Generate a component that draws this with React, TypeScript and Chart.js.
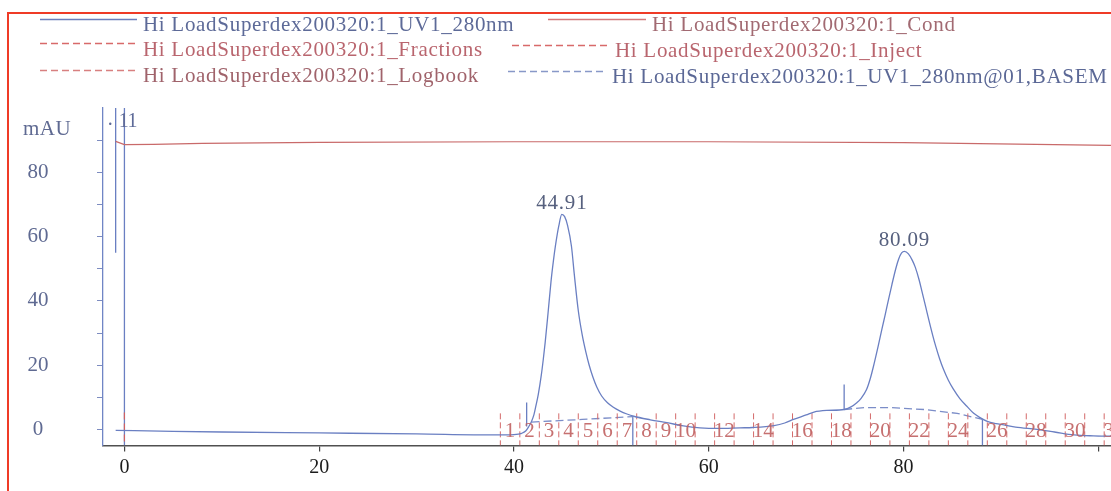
import React, { useEffect, useRef } from 'react';
import { Chart, registerables } from 'chart.js';

Chart.register(...registerables);

// ---------- data ----------
const seriesNames = [
  'Hi LoadSuperdex200320:1_UV1_280nm',
  'Hi LoadSuperdex200320:1_Cond',
  'Hi LoadSuperdex200320:1_Fractions',
  'Hi LoadSuperdex200320:1_Inject',
  'Hi LoadSuperdex200320:1_Logbook',
  'Hi LoadSuperdex200320:1_UV1_280nm@01,BASEM',
];

const uvTime = [
  -0.9, 5, 10, 20, 30, 38, 40, 40.8, 41.2, 41.5, 41.8, 42.05, 42.25, 42.5, 42.8, 43.0, 43.2, 43.5, 43.8,
  44.05, 44.25, 44.6, 44.91, 45.2, 45.5, 45.9, 46.2, 46.6, 47.0, 47.4, 47.7, 48.1, 48.5, 49.0, 49.6,
  50.2, 50.9, 51.6, 52.3, 54.0, 55.7, 57.4, 59.1, 61.0, 63.2, 64.5, 66.7, 67.8, 68.7, 70.0, 70.8,
  72.1, 73.9, 74.6, 75.2, 75.6, 76.2, 76.6, 76.9, 77.4, 77.8, 78.1, 78.5, 78.8, 79.2, 79.5, 79.8,
  80.09, 80.5, 80.9, 81.2, 81.6, 81.9, 82.3, 82.6, 83.0, 83.3, 83.7, 84.1, 84.6, 85.1, 85.8, 86.5,
  87.2, 87.9, 88.6, 89.5, 90.3, 91.5, 93.7, 95.5, 97.5, 99.5, 101.3,
];
const uvValue = [
  -0.3, -0.6, -0.8, -1.1, -1.4, -1.7, -1.6, -1.2, -0.5, 0.8, 2.5, 4.6, 7.3, 11.0, 16.8, 21.6, 27, 36.3, 46,
  52.5, 57, 63.3, 66.9, 66.2, 63.5, 57, 48, 37, 29.5, 23.8, 20.2, 16.3, 13.2, 10.4, 8.3,
  6.9, 5.7, 4.8, 4.1, 3.0, 2.1, 1.1, 0.5, 0.3, 0.5, 0.6, 1.2, 2.0, 3.1, 4.5, 5.4,
  5.9, 6.2, 7.0, 8.3, 9.5, 12.4, 16, 19.5, 26, 31.5, 35.5, 41, 45, 50, 53, 54.9,
  55.4, 54.6, 52.6, 50.5, 46.5, 42.8, 37.8, 34, 29.2, 25.9, 22, 18.7, 15.3, 12.6, 9.5, 7.2,
  5.0, 3.6, 2.5, 1.8, 1.4, 0.7, 0.0, -0.8, -1.7, -2.0, -2.1,
];

const condTime = [-0.9, 0, 3, 8, 20, 40, 60, 80, 101.3];
const condValue = [89.6, 88.6, 88.7, 89.0, 89.3, 89.5, 89.5, 89.2, 88.4];

const basemTime = [41.8, 47.0, 52.2, null, 73.9, 76.0, 78.6, 82.1, 85.5, 88.1];
const basemValue = [2.3, 3.1, 4.0, null, 6.2, 6.8, 6.8, 6.2, 5.0, 3.1];

const fractionBounds = [
  38.6, 40.6, 42.6, 44.6, 46.6, 48.6, 50.6, 52.6, 54.6, 56.6, 58.6, 60.6, 62.6, 64.6, 66.6, 68.6, 70.6,
  72.6, 74.6, 76.6, 78.6, 80.6, 82.6, 84.6, 86.6, 88.6, 90.6, 92.6, 94.6, 96.6, 98.6, 100.6, 102.6,
];
const fractionLabels = [
  '1', '2', '3', '4', '5', '6', '7', '8', '9', '10', '', '12', '', '14', '', '16', '',
  '18', '', '20', '', '22', '', '24', '', '26', '', '28', '', '30', '', '32',
];
const fractionTop = 5;
const fractionBottom = -5;

const injectTime = [0];
const injectTop = [5.3];
const injectBottom = [-5];

const eventTime = [-0.9, 0];
const eventTop = [100, 100];
const eventBottom = [55, -5];
const eventLabels = ['1', '1'];

const peakLimitTime = [41.3, 52.2, 73.9, 88.1];
const peakLimitTop = [8.4, 4.1, 14.0, 3.1];
const peakLimitBottom = [0.9, -5, 6.1, -5];

const peakTime = [44.91, 80.09];
const peakHeight = [66.9, 55.4];

const xTicks = [0, 20, 40, 60, 80, 100];
const xTickLabels = ['0', '20', '40', '60', '80', ''];
const yTicks = [0, 10, 20, 30, 40, 50, 60, 70, 80, 90];
const yTickLabels = ['0', '', '20', '', '40', '', '60', '', '80', ''];
const yTitle = 'mAU';

// ---------- styles ----------
const SERIF = "'Liberation Serif', 'Times New Roman', serif";
const BLUE = '#6a7fc2';
const RED = '#c96a6a';
const FRAC_RED = '#d46a6a';
const legendTextColors = ['#5d6a98', '#a26a72', '#b9656e', '#b9656e', '#a0636b', '#5b6896'];
const legendLineColors = ['#6c7fbd', '#d27c7c', '#d86a6a', '#d86a6a', '#d88080', '#8898c8'];
const legendSlots = [
  { x1: 40, x2: 137, ly: 19.5, tx: 143, ty: 30.7 },
  { x1: 548, x2: 646, ly: 19.5, tx: 652, ty: 30.7 },
  { x1: 40, x2: 137, ly: 43.5, tx: 143, ty: 56.3 },
  { x1: 512, x2: 609, ly: 45.5, tx: 615, ty: 57.3 },
  { x1: 40, x2: 137, ly: 70.5, tx: 143, ty: 81.5 },
  { x1: 508, x2: 606, ly: 71.5, tx: 612, ty: 82.5 },
];

function pairs(xs: (number | null)[], ys: (number | null)[]) {
  return xs.map((x, i) => ({ x: x === null ? NaN : x, y: ys[i] }));
}
function verticals(xs: number[], tops: number[], bottoms: number[]) {
  const out: any[] = [];
  xs.forEach((x, i) => {
    out.push({ x, y: tops[i] }, { x, y: bottoms[i] }, { x, y: null });
  });
  return out;
}

const overlayPlugin = {
  id: 'overlay',
  afterDraw(chart: any) {
    const { ctx, scales } = chart;
    const xs = scales.x;
    const ys = scales.y;
    ctx.save();
    // legend
    const ds = chart.data.datasets;
    legendSlots.forEach((s, i) => {
      const d = ds[i];
      ctx.beginPath();
      ctx.strokeStyle = legendLineColors[i];
      ctx.lineWidth = 1.4;
      ctx.setLineDash(i >= 2 ? [7, 4] : []);
      ctx.moveTo(s.x1, s.ly);
      ctx.lineTo(s.x2, s.ly);
      ctx.stroke();
      ctx.setLineDash([]);
      ctx.font = `21px ${SERIF}`;
      (ctx as any).letterSpacing = '0.7px';
      ctx.fillStyle = legendTextColors[i];
      ctx.textAlign = 'left';
      ctx.textBaseline = 'alphabetic';
      ctx.fillText(d.label, s.tx, s.ty);
    });
    (ctx as any).letterSpacing = '0px';

    // y title
    ctx.font = `21px ${SERIF}`;
    ctx.fillStyle = '#5f6a92';
    ctx.textAlign = 'center';
    ctx.textBaseline = 'middle';
    (ctx as any).letterSpacing = '0.5px';
    ctx.fillText(yTitle, 47, 129);
    (ctx as any).letterSpacing = '0px';

    // event labels
    ctx.font = `20px ${SERIF}`;
    ctx.fillStyle = '#5d6a98';
    ctx.textAlign = 'left';
    eventTime.forEach((t, i) => {
      ctx.fillText(eventLabels[i], xs.getPixelForValue(t) + 3, 122);
    });
    ctx.fillText('.', xs.getPixelForValue(eventTime[0]) - 8, 120);

    // peak labels
    ctx.font = `21px ${SERIF}`;
    (ctx as any).letterSpacing = '0.8px';
    ctx.fillStyle = '#56607e';
    ctx.textAlign = 'center';
    ctx.textBaseline = 'alphabetic';
    peakTime.forEach((t, i) => {
      ctx.fillText(t.toFixed(2), xs.getPixelForValue(t), ys.getPixelForValue(peakHeight[i]) - 5);
    });
    (ctx as any).letterSpacing = '0px';

    // fraction labels
    ctx.font = `21px ${SERIF}`;
    ctx.fillStyle = 'rgba(192,96,96,0.9)';
    ctx.textAlign = 'center';
    ctx.textBaseline = 'middle';
    fractionLabels.forEach((lab, i) => {
      if (!lab) return;
      const c = (fractionBounds[i] + fractionBounds[i + 1]) / 2;
      ctx.fillText(lab, xs.getPixelForValue(c), ys.getPixelForValue(-0.6));
    });
    ctx.restore();
  },
};

export default function App() {
  const ref = useRef<HTMLCanvasElement | null>(null);
  useEffect(() => {
    if (!ref.current) return;
    const fracData = verticals(
      fractionBounds,
      fractionBounds.map(() => fractionTop),
      fractionBounds.map(() => fractionBottom)
    );
    const chart = new Chart(ref.current, {
      type: 'line',
      data: {
        datasets: [
          {
            label: seriesNames[0],
            data: pairs(uvTime, uvValue),
            borderColor: BLUE,
            borderWidth: 1.3,
            cubicInterpolationMode: 'monotone',
          } as any,
          {
            label: seriesNames[1],
            data: pairs(condTime, condValue),
            borderColor: RED,
            borderWidth: 1.2,
          },
          {
            label: seriesNames[2],
            data: fracData,
            borderColor: FRAC_RED,
            borderWidth: 1,
            borderDash: [6, 3],
          },
          {
            label: seriesNames[3],
            data: verticals(injectTime, injectTop, injectBottom),
            borderColor: '#d06060',
            borderWidth: 1.2,
            borderDash: [7, 4],
          },
          {
            label: seriesNames[4],
            data: [],
            borderColor: '#d07a7a',
            borderDash: [7, 4],
          },
          {
            label: seriesNames[5],
            data: pairs(basemTime, basemValue),
            borderColor: '#7b8dc8',
            borderWidth: 1.3,
            borderDash: [8, 4],
          },
          {
            label: 'marks',
            data: [
              ...verticals(eventTime, eventTop, eventBottom),
              ...verticals(peakLimitTime, peakLimitTop, peakLimitBottom),
            ],
            borderColor: BLUE,
            borderWidth: 1.3,
          },
        ] as any,
      },
      options: {
        animation: false,
        responsive: false,
        layout: { padding: { top: 108, left: 0, right: 0, bottom: 0 } },
        elements: { point: { radius: 0 }, line: { tension: 0 } },
        plugins: { legend: { display: false }, tooltip: { enabled: false } },
        scales: {
          x: {
            type: 'linear',
            min: -2.2,
            max: 101.3,
            afterBuildTicks: (s: any) => {
              s.ticks = xTicks.map((v) => ({ value: v }));
            },
            afterFit: (s: any) => {
              s.height = 45.5;
              s.paddingLeft = 0;
              s.paddingRight = 0;
            },
            grid: { display: true, drawOnChartArea: false, drawTicks: true, tickLength: 6, color: '#444', lineWidth: 1.2 },
            border: { display: true, color: '#505050', width: 1.6 },
            ticks: {
              autoSkip: false,
              maxRotation: 0,
              padding: 4,
              color: '#1c1c1c',
              font: { family: SERIF, size: 20 },
              callback: (v: any) => {
                const i = xTicks.indexOf(Number(v));
                return i >= 0 ? xTickLabels[i] : '';
              },
            },
          },
          y: {
            type: 'linear',
            min: -5,
            max: 100,
            afterBuildTicks: (s: any) => {
              s.ticks = yTicks.map((v) => ({ value: v }));
            },
            afterFit: (s: any) => {
              s.width = 103;
              s.paddingTop = 0;
              s.paddingBottom = 0;
            },
            grid: { display: true, drawOnChartArea: false, drawTicks: true, tickLength: 6, color: '#7d8cc0', lineWidth: 1 },
            border: { display: true, color: '#7085c5', width: 1.3 },
            ticks: {
              autoSkip: false,
              crossAlign: 'center',
              padding: 48.5,
              color: '#5f6a92',
              font: { family: SERIF, size: 21 },
              callback: (v: any) => {
                const i = yTicks.indexOf(Number(v));
                return i >= 0 ? yTickLabels[i] : '';
              },
            },
          },
        },
      } as any,
      plugins: [overlayPlugin],
    });
    return () => chart.destroy();
  }, []);

  return (
    <div style={{ position: 'absolute', left: 0, top: 0, width: 1111, height: 491, background: '#ffffff', overflow: 'hidden' }}>
      <div
        style={{
          position: 'absolute',
          left: 7,
          top: 12,
          width: 1300,
          height: 700,
          border: '2px solid #ef3b26',
          boxSizing: 'border-box',
        }}
      />
      <canvas ref={ref} width={1111} height={491} style={{ position: 'absolute', left: 0, top: 0, width: 1111, height: 491 }} />
    </div>
  );
}
